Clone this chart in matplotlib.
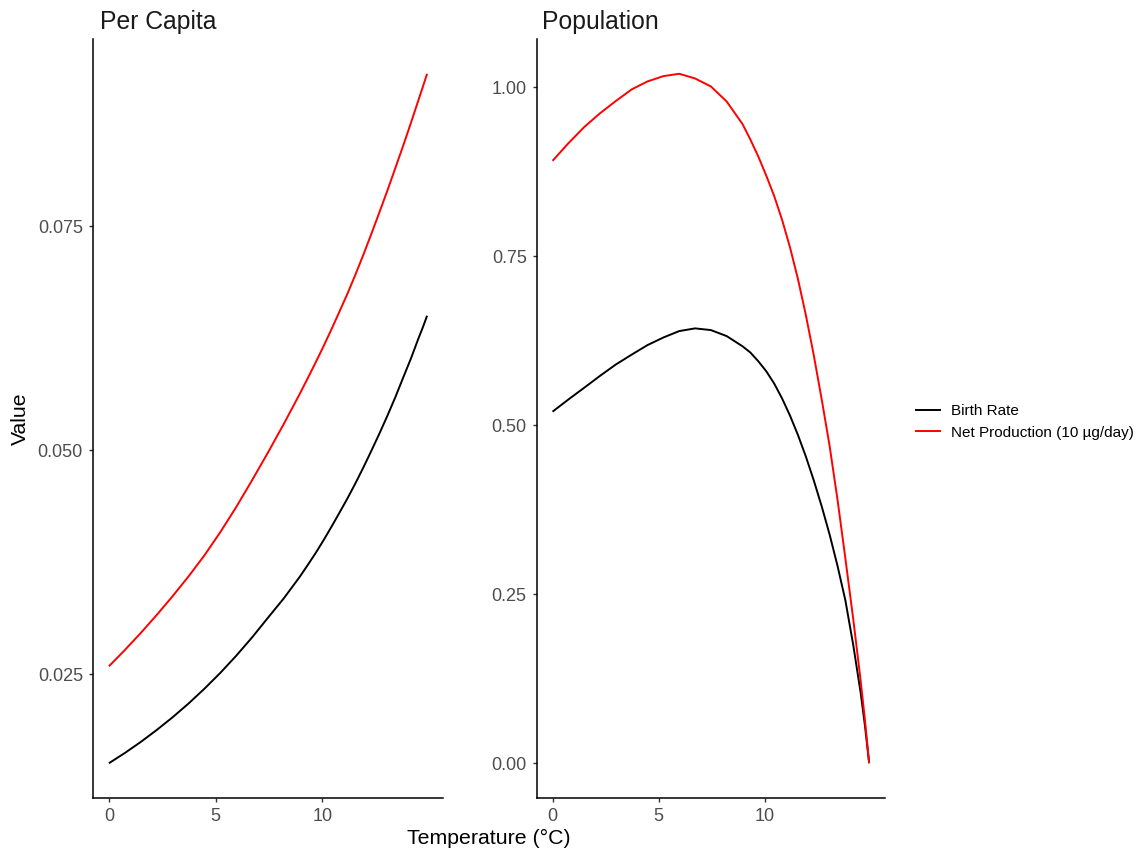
import matplotlib
matplotlib.use("Agg")
import matplotlib.pyplot as plt
from matplotlib.lines import Line2D

plt.rcParams['font.family'] = ['Liberation Sans', 'DejaVu Sans']

# Temperature grid (°C), denser where the population curves fall off
temperature = [0.0, 0.745, 1.49, 2.235, 2.98, 3.725, 4.47, 5.215, 5.96, 6.705,
               7.45, 8.195, 8.94, 9.31, 9.685, 10.06, 10.43, 10.8, 11.175,
               11.55, 11.92, 12.29, 12.665, 13.04, 13.41, 13.78, 14.155, 14.5,
               14.7, 14.9]

# Per-capita rates
birth_per_capita = [0.01510, 0.01624, 0.01747, 0.01880, 0.02022, 0.02175,
                    0.02340, 0.02517, 0.02708, 0.02913, 0.03133, 0.03350,
                    0.03590, 0.03720, 0.03855, 0.04000, 0.04150, 0.04305,
                    0.04465, 0.04634, 0.04810, 0.04994, 0.05185, 0.05384,
                    0.05590, 0.05810, 0.06030, 0.06250, 0.06370, 0.06500]
production_per_capita = [0.02591, 0.02772, 0.02962, 0.03162, 0.03372, 0.03592,
                         0.03827, 0.04086, 0.04366, 0.04666, 0.04975, 0.05296,
                         0.05630, 0.05803, 0.05981, 0.06164, 0.06353, 0.06548,
                         0.06748, 0.06962, 0.07182, 0.07413, 0.07652, 0.07895,
                         0.08145, 0.08396, 0.08659, 0.08908, 0.09052, 0.09198]

# Population-level totals
birth_population = [0.520, 0.538, 0.5554, 0.5730, 0.5898, 0.6044, 0.6185,
                    0.6297, 0.6392, 0.6432, 0.6407, 0.6318, 0.6167, 0.6075,
                    0.5945, 0.5797, 0.5616, 0.5397, 0.5142, 0.4854, 0.4537,
                    0.4187, 0.3801, 0.3381, 0.292, 0.241, 0.174, 0.104, 0.056,
                    0.0]
production_population = [0.891, 0.917, 0.9410, 0.9614, 0.9796, 0.9967, 1.0085,
                         1.0163, 1.0198, 1.0129, 1.0011, 0.9788, 0.9454, 0.9225,
                         0.8973, 0.869, 0.839, 0.804, 0.763, 0.716, 0.663,
                         0.604, 0.5385, 0.469, 0.390, 0.303, 0.212, 0.122,
                         0.064, 0.0]

series_labels = ["Birth Rate", "Net Production (10 µg/day)"]
series_colors = ["black", "red"]

left_ticks = [0.025, 0.050, 0.075]
left_ticklabels = ["0.025", "0.050", "0.075"]
right_ticks = [0.00, 0.25, 0.50, 0.75, 1.00]
right_ticklabels = ["0.00", "0.25", "0.50", "0.75", "1.00"]
x_ticks = [0, 5, 10]
x_ticklabels = ["0", "5", "10"]

W, H = 1139, 856
fig = plt.figure(figsize=(W / 100, H / 100), dpi=100)
fig.patch.set_facecolor("white")


def frac_box(x0, x1, ytop, ybot):
    return [x0 / W, 1 - ybot / H, (x1 - x0) / W, (ybot - ytop) / H]


ax1 = fig.add_axes(frac_box(93, 443, 39.3, 797.7))
ax2 = fig.add_axes(frac_box(536.7, 885, 39.3, 797.7))

panels = [
    (ax1, [birth_per_capita, production_per_capita], "Per Capita",
     left_ticks, left_ticklabels),
    (ax2, [birth_population, production_population], "Population",
     right_ticks, right_ticklabels),
]

for ax, series, title, yt, ytl in panels:
    for vals, col in zip(series, series_colors):
        ax.plot(temperature, vals, color=col, lw=1.4, solid_capstyle="butt",
                solid_joinstyle="round")
    ax.margins(x=0.05, y=0.05)
    ax.set_xticks(x_ticks)
    ax.set_xticklabels(x_ticklabels)
    ax.set_yticks(yt)
    ax.set_yticklabels(ytl)
    for side in ("top", "right"):
        ax.spines[side].set_visible(False)
    for side in ("left", "bottom"):
        ax.spines[side].set_linewidth(1.1)
        ax.spines[side].set_color("black")
    ax.tick_params(axis="both", length=3.0, width=1.0, color="#333333",
                   labelcolor="#4D4D4D", labelsize=13, pad=4.2)
    ax.set_facecolor("white")

fig.text(100 / W, 1 - 29.3 / H, "Per Capita", fontsize=17.8, color="#1A1A1A",
         ha="left", va="baseline")
fig.text(542 / W, 1 - 29.3 / H, "Population", fontsize=17.8, color="#1A1A1A",
         ha="left", va="baseline")

fig.text(489 / W, 1 - 838 / H, "Temperature (°C)", fontsize=15.3,
         color="black", ha="center", va="center")
fig.text(20 / W, 1 - 419 / H, "Value", fontsize=15.3, color="black",
         ha="center", va="center", rotation=90)

handles = [Line2D([], [], color=c, lw=1.4) for c in series_colors]
fig.legend(handles, series_labels, loc="center left",
           bbox_to_anchor=(916 / W, 1 - 422 / H), frameon=False,
           fontsize=11, handlelength=1.57, handletextpad=0.75,
           labelspacing=0.49, borderpad=0, borderaxespad=0)

fig.savefig("out.png", dpi=100, facecolor="white")
